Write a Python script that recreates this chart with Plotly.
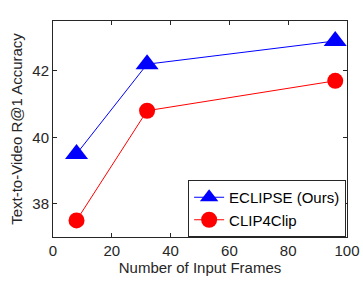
import plotly.graph_objects as go

frames = [8, 32, 96]
eclipse = [39.5, 42.2, 42.9]
clip4clip = [37.5, 40.8, 41.7]
x_ticks = [0, 20, 40, 60, 80, 100]
y_ticks = [38, 40, 42]

fig = go.Figure()
fig.add_trace(go.Scatter(x=frames, y=eclipse, mode="lines+markers", name="ECLIPSE (Ours)",
                         line=dict(color="#0000ff", width=1),
                         marker=dict(symbol="triangle-up", size=20, color="#0000ff")))
fig.add_trace(go.Scatter(x=frames, y=clip4clip, mode="lines+markers", name="CLIP4Clip",
                         line=dict(color="#ff0000", width=1),
                         marker=dict(symbol="circle", size=16, color="#ff0000")))

axis_common = dict(showline=True, linecolor="#262626", linewidth=1, mirror="ticks",
                   ticks="inside", ticklen=4, tickcolor="#262626", showgrid=False,
                   zeroline=False, automargin=False, tickfont=dict(size=15, color="#262626"))
fig.update_xaxes(range=[0, 100], tickvals=x_ticks, title=dict(text="Number of Input Frames",
                 font=dict(size=15, color="#262626"), standoff=4), **axis_common)
fig.update_yaxes(range=[37, 43.5], tickvals=y_ticks, title=dict(text="Text-to-Video R@1 Accuracy",
                 font=dict(size=15, color="#262626"), standoff=6), **axis_common)

fig.update_layout(
    width=363, height=285,
    margin=dict(l=53, r=16, t=21, b=48, autoexpand=False),
    paper_bgcolor="white", plot_bgcolor="white",
    font=dict(family="Liberation Sans, Arial, sans-serif", color="#262626"),
    legend=dict(x=0.997, y=0.0, xanchor="right", yanchor="bottom",
                bordercolor="#262626", borderwidth=1, bgcolor="white",
                font=dict(size=15, color="black"), itemwidth=30, tracegroupgap=0),
)
fig.write_html("out.html", config={"displayModeBar": False},
               post_script="document.body.style.margin='0';")
